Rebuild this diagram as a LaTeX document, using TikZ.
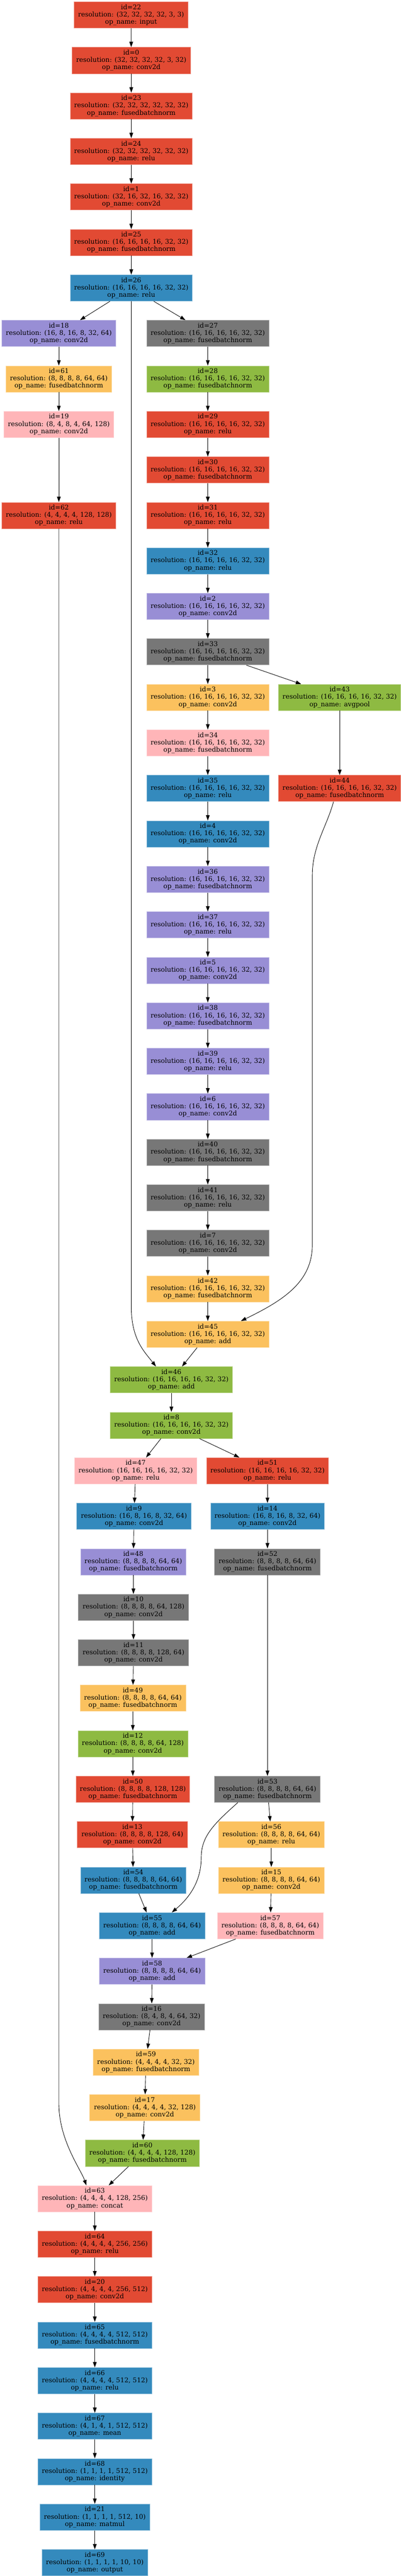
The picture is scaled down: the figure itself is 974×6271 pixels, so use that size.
\documentclass[tikz,border=0pt]{standalone}
\usepackage{fontspec}
\setmainfont{DejaVu Serif}
\usetikzlibrary{arrows.meta}
\definecolor{cR}{HTML}{E24A33}
\definecolor{cB}{HTML}{348ABD}
\definecolor{cP}{HTML}{988ED5}
\definecolor{cG}{HTML}{777777}
\definecolor{cY}{HTML}{FBC15E}
\definecolor{cV}{HTML}{8EBA42}
\definecolor{cK}{HTML}{FFB5B8}
\newcommand\gvnode[7]{\node[gbox,fill=#2,draw=#2!55!white,minimum width=#3pt] (n#1) at (#4,{36.4+110.75*#5}) {id=#1\\resolution: (#6)\\op\_name: #7};}
\begin{document}
\begin{tikzpicture}[x=1pt,y=-1pt,
  gbox/.style={rectangle, minimum height=64pt, inner xsep=3pt, inner ysep=0pt, align=center, line width=0.8pt, font=\fontsize{15.9pt}{17.7pt}\selectfont},
  gedge/.style={-{Triangle[length=13pt,width=9pt]}, line width=1.1pt, black}]
\useasboundingbox (0,0) rectangle (974,6271);
\def\sx{16, 16, 16, 16, 32, 32}
\def\ei{8, 8, 8, 8, 64, 64}
\gvnode{22}{cR}{277}{318.5}{0}{32, 32, 32, 32, 3, 3}{input}
\gvnode{0}{cR}{288}{319}{1}{32, 32, 32, 32, 3, 32}{conv2d}
\gvnode{23}{cR}{297}{319}{2}{32, 32, 32, 32, 32, 32}{fusedbatchnorm}
\gvnode{24}{cR}{297}{319}{3}{32, 32, 32, 32, 32, 32}{relu}
\gvnode{1}{cR}{297}{319}{4}{32, 16, 32, 16, 32, 32}{conv2d}
\gvnode{25}{cR}{297}{319}{5}{\sx}{fusedbatchnorm}
\gvnode{26}{cB}{297}{319}{6}{\sx}{relu}
\gvnode{18}{cP}{277}{143}{7}{16, 8, 16, 8, 32, 64}{conv2d}
\gvnode{27}{cG}{297}{505}{7}{\sx}{fusedbatchnorm}
\gvnode{61}{cY}{257}{143}{8}{\ei}{fusedbatchnorm}
\gvnode{28}{cV}{297}{505}{8}{\sx}{fusedbatchnorm}
\gvnode{19}{cK}{267}{143}{9}{8, 4, 8, 4, 64, 128}{conv2d}
\gvnode{29}{cR}{297}{505}{9}{\sx}{relu}
\gvnode{30}{cR}{297}{505}{10}{\sx}{fusedbatchnorm}
\gvnode{62}{cR}{277}{143}{11}{4, 4, 4, 4, 128, 128}{relu}
\gvnode{31}{cR}{297}{505}{11}{\sx}{relu}
\gvnode{32}{cB}{297}{505}{12}{\sx}{relu}
\gvnode{2}{cP}{297}{505}{13}{\sx}{conv2d}
\gvnode{33}{cG}{297}{505}{14}{\sx}{fusedbatchnorm}
\gvnode{3}{cY}{297}{505}{15}{\sx}{conv2d}
\gvnode{43}{cV}{297}{825.5}{15}{\sx}{avgpool}
\gvnode{34}{cK}{297}{505}{16}{\sx}{fusedbatchnorm}
\gvnode{35}{cB}{297}{505}{17}{\sx}{relu}
\gvnode{44}{cR}{297}{825.5}{17}{\sx}{fusedbatchnorm}
\gvnode{4}{cB}{297}{505}{18}{\sx}{conv2d}
\gvnode{36}{cP}{297}{505}{19}{\sx}{fusedbatchnorm}
\gvnode{37}{cP}{297}{505}{20}{\sx}{relu}
\gvnode{5}{cP}{297}{505}{21}{\sx}{conv2d}
\gvnode{38}{cP}{297}{505}{22}{\sx}{fusedbatchnorm}
\gvnode{39}{cP}{297}{505}{23}{\sx}{relu}
\gvnode{6}{cP}{297}{505}{24}{\sx}{conv2d}
\gvnode{40}{cG}{297}{505}{25}{\sx}{fusedbatchnorm}
\gvnode{41}{cG}{297}{505}{26}{\sx}{relu}
\gvnode{7}{cG}{297}{505}{27}{\sx}{conv2d}
\gvnode{42}{cY}{297}{505}{28}{\sx}{fusedbatchnorm}
\gvnode{45}{cY}{297}{505}{29}{\sx}{add}
\gvnode{46}{cV}{297}{416.5}{30}{\sx}{add}
\gvnode{8}{cV}{297}{416.5}{31}{\sx}{conv2d}
\gvnode{47}{cK}{297}{329.6}{32}{\sx}{relu}
\gvnode{51}{cR}{297}{650}{32}{\sx}{relu}
\gvnode{9}{cB}{278}{325.6}{33}{16, 8, 16, 8, 32, 64}{conv2d}
\gvnode{14}{cB}{277}{650}{33}{16, 8, 16, 8, 32, 64}{conv2d}
\gvnode{48}{cP}{257}{324}{34}{\ei}{fusedbatchnorm}
\gvnode{52}{cG}{257}{650}{34}{\ei}{fusedbatchnorm}
\gvnode{10}{cG}{268}{324.4}{35}{8, 8, 8, 8, 64, 128}{conv2d}
\gvnode{11}{cG}{268}{324.4}{36}{8, 8, 8, 8, 128, 64}{conv2d}
\gvnode{49}{cY}{257}{322.8}{37}{\ei}{fusedbatchnorm}
\gvnode{12}{cV}{267}{322.8}{38}{8, 8, 8, 8, 64, 128}{conv2d}
\gvnode{50}{cR}{277}{322.8}{39}{8, 8, 8, 8, 128, 128}{fusedbatchnorm}
\gvnode{53}{cG}{257}{650}{39}{\ei}{fusedbatchnorm}
\gvnode{13}{cR}{268}{321.6}{40}{8, 8, 8, 8, 128, 64}{conv2d}
\gvnode{56}{cY}{257}{659.4}{40}{\ei}{relu}
\gvnode{54}{cB}{257}{324}{41}{\ei}{fusedbatchnorm}
\gvnode{15}{cY}{257}{659.4}{41}{\ei}{conv2d}
\gvnode{55}{cB}{257}{369.6}{42}{\ei}{add}
\gvnode{57}{cK}{257}{656.9}{42}{\ei}{fusedbatchnorm}
\gvnode{58}{cP}{257}{369.6}{43}{\ei}{add}
\gvnode{16}{cG}{257}{368.4}{44}{8, 4, 8, 4, 64, 32}{conv2d}
\gvnode{59}{cY}{257}{354.7}{45}{4, 4, 4, 4, 32, 32}{fusedbatchnorm}
\gvnode{17}{cY}{268}{352}{46}{4, 4, 4, 4, 32, 128}{conv2d}
\gvnode{60}{cV}{277}{346}{47}{4, 4, 4, 4, 128, 128}{fusedbatchnorm}
\gvnode{63}{cK}{277}{230.4}{48}{4, 4, 4, 4, 128, 256}{concat}
\gvnode{64}{cR}{277}{230.4}{49}{4, 4, 4, 4, 256, 256}{relu}
\gvnode{20}{cR}{277}{230.4}{50}{4, 4, 4, 4, 256, 512}{conv2d}
\gvnode{65}{cB}{277}{230.4}{51}{4, 4, 4, 4, 512, 512}{fusedbatchnorm}
\gvnode{66}{cB}{277}{230.4}{52}{4, 4, 4, 4, 512, 512}{relu}
\gvnode{67}{cB}{277}{230.4}{53}{4, 1, 4, 1, 512, 512}{mean}
\gvnode{68}{cB}{277}{230.4}{54}{1, 1, 1, 1, 512, 512}{identity}
\gvnode{21}{cB}{267}{230.4}{55}{1, 1, 1, 1, 512, 10}{matmul}
\gvnode{69}{cB}{257}{230.4}{56}{1, 1, 1, 1, 10, 10}{output}
\foreach \a/\b in {22/0,0/23,23/24,24/1,1/25,25/26,26/18,26/27,18/61,61/19,19/62,
  27/28,28/29,29/30,30/31,31/32,32/2,2/33,33/3,33/43,3/34,34/35,35/4,4/36,36/37,
  37/5,5/38,38/39,39/6,6/40,40/41,41/7,7/42,42/45,43/44,45/46,46/8,8/47,8/51,
  47/9,9/48,48/10,10/11,11/49,49/12,12/50,50/13,13/54,54/55,51/14,14/52,52/53,
  53/56,56/15,15/57,57/58,55/58,58/16,16/59,59/17,17/60,60/63,63/64,64/20,
  20/65,65/66,66/67,67/68,68/21,21/69}
  \draw[gedge] (n\a) -- (n\b);
% long and curved connectors
\draw[gedge] (n26.south) -- (319,3180) .. controls +(0,80) and +(-29,-37) .. ([xshift=-37.5pt]n46.north);
\draw[gedge] (n62.south) -- (143,5120) .. controls +(0,90) and +(-14,-40) .. ([xshift=-20.4pt]n63.north);
\draw[gedge] ([xshift=-15pt]n44.south) .. controls (795,2010) and (759,2060) .. (759,2130)
  -- (759,3030) .. controls (759,3120) and (690,3165) .. ([xshift=80.6pt]n45.north);
\draw[gedge] ([xshift=-72pt]n53.south) .. controls (520,4440) and (489,4470) .. (489,4522)
  .. controls (489,4580) and (460,4620) .. ([xshift=48pt]n55.north);
\end{tikzpicture}
\end{document}
